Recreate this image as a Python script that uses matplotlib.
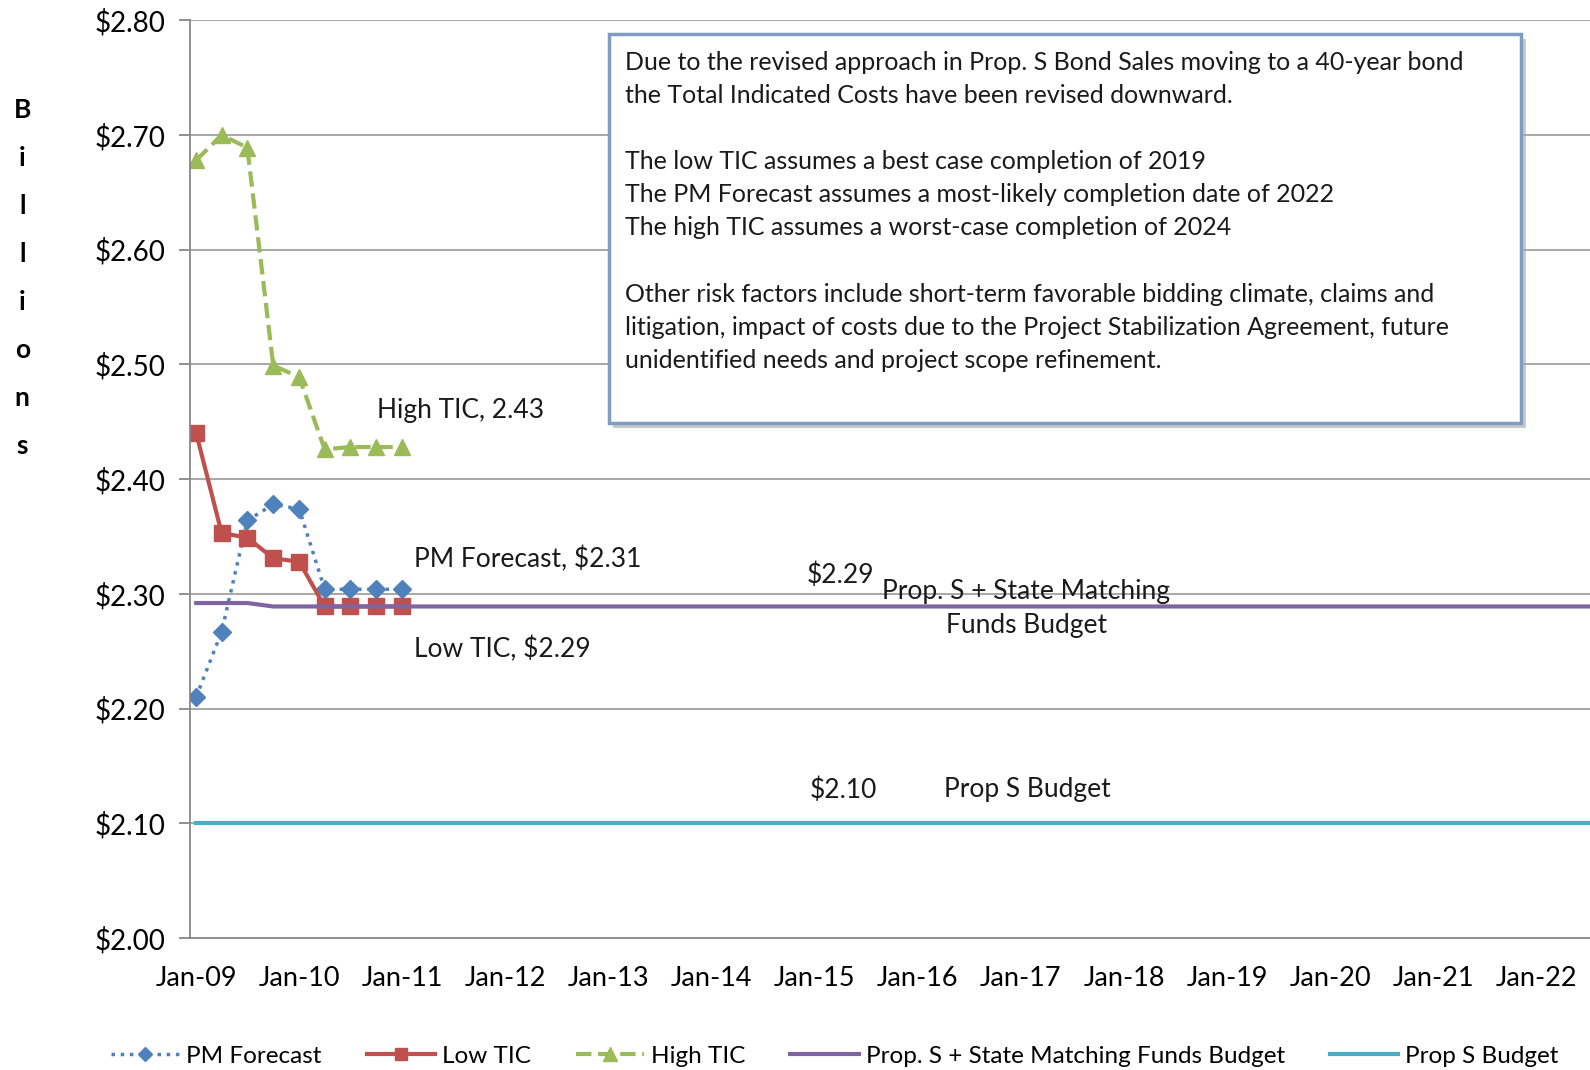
import matplotlib
matplotlib.use("Agg")
import matplotlib.pyplot as plt
import matplotlib.dates as mdates
from matplotlib.patches import FancyBboxPatch
import pandas as pd

plt.rcParams['font.family'] = ['Lato', 'DejaVu Sans']

# quarterly reporting dates
quarters = pd.to_datetime(["2009-01-01", "2009-04-01", "2009-07-01", "2009-10-01",
                           "2010-01-01", "2010-04-01", "2010-07-01", "2010-10-01",
                           "2011-01-01"])
pm_forecast = [2.210, 2.267, 2.364, 2.378, 2.374, 2.304, 2.304, 2.304, 2.304]
low_tic = [2.440, 2.353, 2.349, 2.331, 2.328, 2.289, 2.289, 2.289, 2.289]
high_tic = [2.678, 2.700, 2.689, 2.499, 2.489, 2.426, 2.428, 2.428, 2.428]

budget_dates = pd.to_datetime(["2009-01-01", "2009-04-01", "2009-07-01", "2009-10-01", "2023-01-01"])
state_budget = [2.292, 2.292, 2.292, 2.289, 2.289]
props_budget = [2.10, 2.10, 2.10, 2.10, 2.10]

year_ticks = pd.to_datetime([f"{y}-01-01" for y in range(2009, 2023)])
y_ticks = [2.0, 2.1, 2.2, 2.3, 2.4, 2.5, 2.6, 2.7, 2.8]

note = ("Due to the revised approach in Prop. S Bond Sales moving to a 40-year bond\n"
        "the Total Indicated Costs have been revised downward.\n\n"
        "The low TIC assumes a best case completion of 2019\n"
        "The PM Forecast assumes a most-likely completion date of 2022\n"
        "The high TIC assumes a worst-case completion of 2024\n\n"
        "Other risk factors include short-term favorable bidding climate, claims and\n"
        "litigation, impact of costs due to the Project Stabilization Agreement, future\n"
        "unidentified needs and project scope refinement.")

fig = plt.figure(figsize=(15.9, 10.7), dpi=100)
ax = fig.add_axes([0.1195, 0.1234, 0.8805, 0.8576])

ax.plot(quarters, pm_forecast, ':', color='#4F81BD', lw=2.5, marker='D', ms=9,
        label='PM Forecast')
ax.plot(quarters, low_tic, '-', color='#C0504D', lw=3, marker='s', ms=11,
        label='Low TIC')
ax.plot(quarters, high_tic, '--', color='#9BBB59', lw=3, marker='^', ms=12,
        label='High TIC')
ax.plot(budget_dates, state_budget, '-', color='#8064A2', lw=3,
        label='Prop. S + State Matching Funds Budget')
ax.plot(budget_dates, props_budget, '-', color='#4BACC6', lw=3,
        label='Prop S Budget')

ax.set_ylim(2.0, 2.8)
ax.set_yticks(y_ticks)
ax.set_yticklabels([f"${v:.2f}" for v in y_ticks])
ax.set_xlim(pd.Timestamp("2008-12-10"), pd.Timestamp("2022-07-10"))
ax.set_xticks(year_ticks)
ax.xaxis.set_major_formatter(mdates.DateFormatter('%b-%y'))

ax.grid(axis='y', color='#A0A0A0', lw=1.3)
ax.set_axisbelow(True)
for s in ['top', 'right']:
    ax.spines[s].set_visible(False)
for s in ['left', 'bottom']:
    ax.spines[s].set_color('#888888')
    ax.spines[s].set_linewidth(1.3)
ax.tick_params(axis='y', length=8, width=1.3, color='#888888', labelsize=20, pad=10)
ax.tick_params(axis='x', length=0, labelsize=19.5, pad=20)

# vertical "Billions" label
fig.text(0.014, 0.908, "B\ni\nl\nl\ni\no\nn\ns", fontsize=19, fontweight='bold',
         ha='center', va='top', linespacing=2.2)

# series labels
tc = '#1a1a1a'
fs = 19
ax.text(pd.Timestamp("2010-10-05"), 2.460, "High TIC, 2.43", fontsize=fs, color=tc,
        va='center')
ax.text(pd.Timestamp("2011-02-12"), 2.3305, "PM Forecast, $2.31", fontsize=fs, color=tc,
        va='center')
ax.text(pd.Timestamp("2011-02-12"), 2.252, "Low TIC, $2.29", fontsize=fs, color=tc,
        va='center')
ax.text(pd.Timestamp("2014-12-05"), 2.316, "$2.29", fontsize=fs, color=tc, va='center')
ax.text(pd.Timestamp("2017-01-20"), 2.287, "Prop. S + State Matching\nFunds Budget",
        fontsize=fs, color=tc, va='center', ha='center', linespacing=1.45)
ax.text(pd.Timestamp("2014-12-15"), 2.129, "$2.10", fontsize=fs, color=tc, va='center')
ax.text(pd.Timestamp("2016-04-05"), 2.129, "Prop S Budget", fontsize=fs, color=tc,
        va='center')

# note box
shadow = FancyBboxPatch((0.302, 0.5555), 0.652, 0.4243, transform=ax.transAxes,
                        boxstyle='square,pad=0', facecolor='#A8A8A8', edgecolor='none',
                        alpha=0.6, zorder=4)
box = FancyBboxPatch((0.299, 0.5613), 0.652, 0.4243, transform=ax.transAxes,
                     boxstyle='square,pad=0', facecolor='white', edgecolor='#7F9CC5',
                     lw=2.5, zorder=5)
ax.add_patch(shadow)
ax.add_patch(box)
ax.text(0.311, 0.9665, note, transform=ax.transAxes, fontsize=18, color=tc,
        va='top', ha='left', linespacing=1.53, zorder=6)

fig.legend(loc='center', bbox_to_anchor=(0.525, 0.013), ncol=5, frameon=False,
           fontsize=17.5, handlelength=2.8, columnspacing=1.85, handletextpad=0.3,
           markerscale=0.8)

fig.savefig("out.png", dpi=100)
